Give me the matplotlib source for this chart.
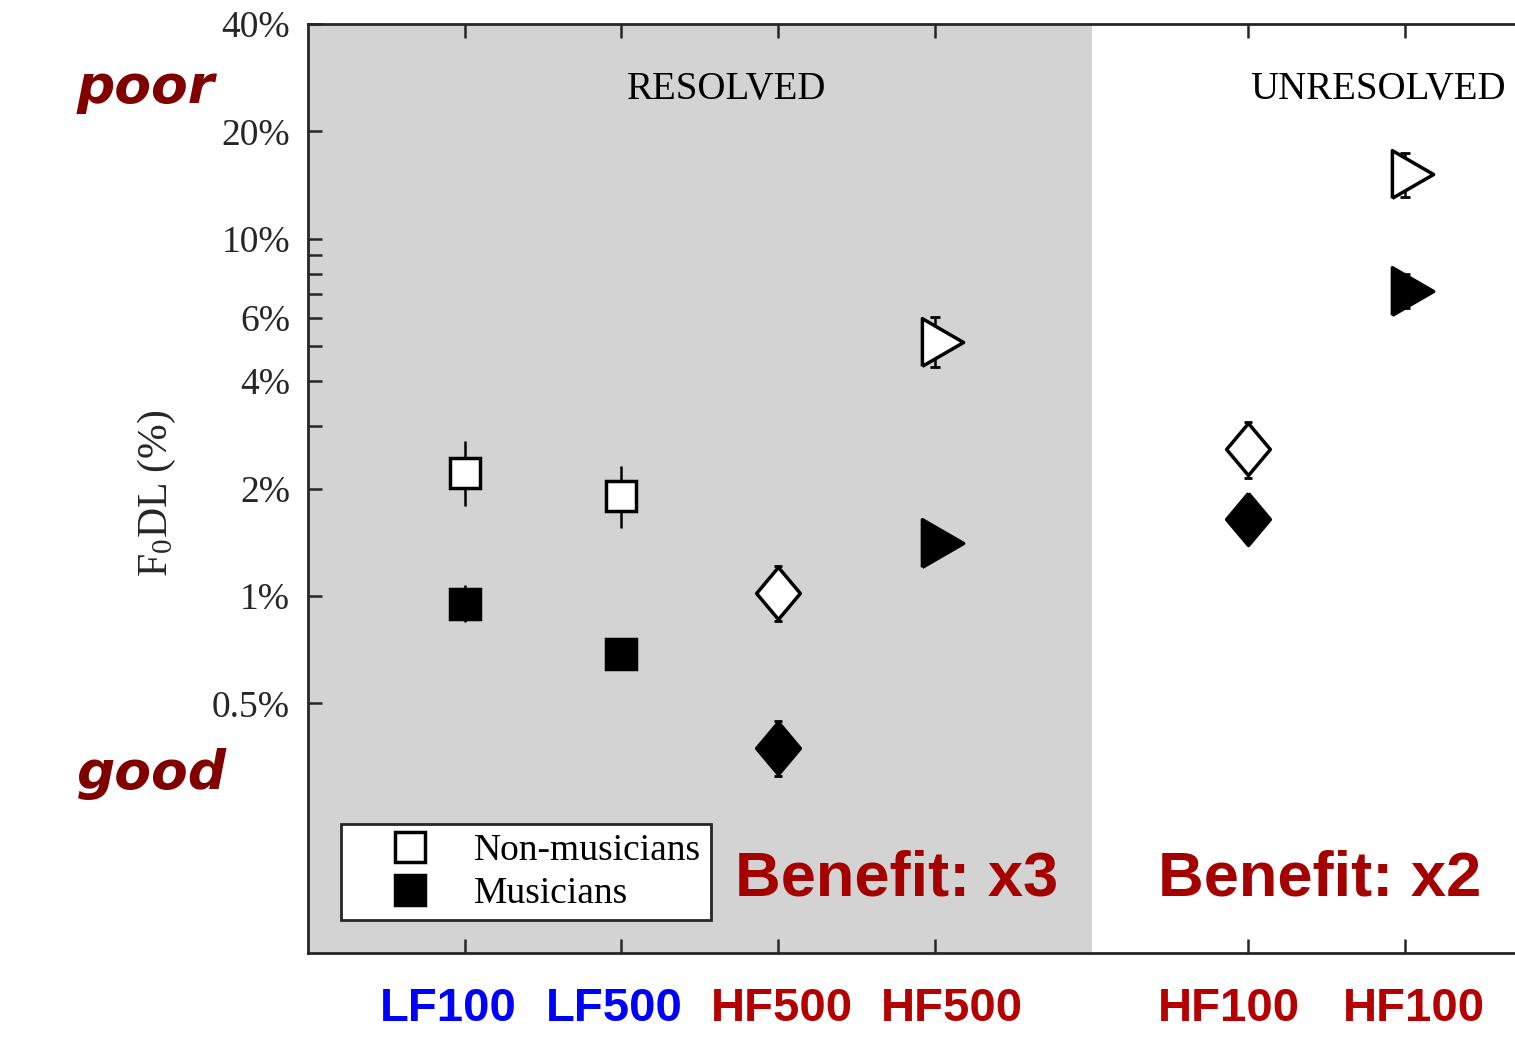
import matplotlib
matplotlib.use("Agg")
import matplotlib.pyplot as plt
import matplotlib.transforms as mtransforms
import numpy as np

plt.rcParams['mathtext.fontset'] = 'custom'
plt.rcParams['mathtext.rm'] = 'Liberation Serif'
plt.rcParams['mathtext.it'] = 'Liberation Serif:italic'

# ---------------- data ----------------
categories = ['LF100', 'LF500', 'HF500', 'HF500', 'HF100', 'HF100']
label_colors = ['#0000FF', '#0000FF', '#B40000', '#B40000', '#B40000', '#B40000']
shapes = ['square', 'square', 'diamond', 'triangle', 'diamond', 'triangle']

nonmus = [2.21, 1.91, 1.02, 5.15, 2.58, 15.2]
nonmus_lo = [1.79, 1.55, 0.85, 4.38, 2.14, 13.1]
nonmus_hi = [2.72, 2.31, 1.21, 6.04, 3.07, 17.4]

mus = [0.95, 0.688, 0.375, 1.41, 1.64, 7.15]
mus_lo = [0.845, 0.66, 0.313, 1.35, 1.57, 6.4]
mus_hi = [1.07, 0.72, 0.447, 1.47, 1.72, 7.98]

yticks = [0.5, 1, 2, 3, 4, 5, 6, 7, 8, 9, 10, 20, 40]
ytick_labels = ['0.5%', '1%', '2%', '', '4%', '', '6%', '', '', '', '10%', '20%', '40%']

# ---------------- layout ----------------
xpos = [1, 2, 3, 4, 6, 7]
label_x = [0.893, 1.953, 3.025, 4.11, 5.877, 7.058]

W, H = 1515, 1046
fig = plt.figure(figsize=(W / 100, H / 100), dpi=100)
ax_left, ax_right_px, ax_top_px, ax_bot_px = 308, 308 + 8 * 156.7, 24, 953
ax = fig.add_axes([ax_left / W, 1 - ax_bot_px / H,
                   (ax_right_px - ax_left) / W, (ax_bot_px - ax_top_px) / H])

ax.set_xlim(0, 8)
ax.set_yscale('log')
ax.set_ylim(0.1, 40)
ax.axvspan(0, 5, color='#d3d3d3', zorder=0, lw=0)

dark = '#262626'
for s in ax.spines.values():
    s.set_linewidth(2.0)
    s.set_color(dark)

ax.set_yticks(yticks)
ax.set_yticklabels(ytick_labels, family='Liberation Serif', fontsize=27, color=dark)
ax.yaxis.set_minor_locator(matplotlib.ticker.NullLocator())
ax.set_xticks(xpos)
ax.set_xticklabels([])
ax.tick_params(axis='both', which='major', direction='in', length=10, width=1.8,
               color=dark, top=True, right=False, pad=13)

ax.set_ylabel(r'F$_0$DL (%)', family='Liberation Serif', fontsize=30, color=dark)
ax.yaxis.set_label_coords(-0.104, 0.495)

# markers
tri = [(-0.275, -0.5), (0.59, 0.0), (-0.275, 0.5), (-0.275, -0.5)]
dia = [(0, 0.5), (0.42, 0), (0, -0.5), (-0.42, 0), (0, 0.5)]
marker_map = {'square': ('s', 22, 0), 'diamond': (dia, 37.5, 3), 'triangle': (tri, 40.5, 3.6)}

for i, shp in enumerate(shapes):
    m, ms, cs = marker_map[shp]
    for vals, lo, hi, face in [(nonmus, nonmus_lo, nonmus_hi, 'white'),
                               (mus, mus_lo, mus_hi, 'black')]:
        v = vals[i]
        ax.errorbar([xpos[i]], [v], yerr=[[v - lo[i]], [hi[i] - v]], fmt='none',
                    ecolor='black', elinewidth=1.8, capsize=cs, capthick=2, zorder=3)
        ax.plot([xpos[i]], [v], linestyle='none', marker=m, markersize=ms,
                markerfacecolor=face, markeredgecolor='black', markeredgewidth=2.5,
                zorder=4)

# legend
h1, = ax.plot([], [], 's', ms=22, mfc='white', mec='black', mew=2.5, label='Non-musicians')
h2, = ax.plot([], [], 's', ms=22, mfc='black', mec='black', mew=2.5, label='Musicians')
leg = ax.legend(handles=[h1, h2], loc='lower left', bbox_to_anchor=(0.0263, 0.0355),
                prop={'family': 'Liberation Serif', 'size': 27}, frameon=True,
                fancybox=False, borderpad=0.25, handlelength=3.2, handletextpad=0.1,
                labelspacing=0.22, borderaxespad=0)
leg.get_frame().set_edgecolor(dark)
leg.get_frame().set_linewidth(2.0)
leg.get_frame().set_facecolor('white')
leg.get_frame().set_alpha(1)
leg.set_zorder(5)

# region titles
fig.text(727 / W, 1 - 99 / H, 'RESOLVED', family='Liberation Serif', fontsize=28,
         ha='center', va='baseline', color='black')
fig.text(1250 / W, 1 - 99 / H, 'UNRESOLVED', family='Liberation Serif', fontsize=28,
         ha='left', va='baseline', color='black')

# benefit texts
fig.text(735 / W, 1 - 896 / H, 'Benefit: x3', family='Liberation Sans', weight='bold',
         fontsize=45.5, color='#A50000', ha='left', va='baseline')
fig.text(1158 / W, 1 - 896 / H, 'Benefit: x2', family='Liberation Sans', weight='bold',
         fontsize=45.5, color='#A50000', ha='left', va='baseline')

# poor / good
fig.text(77 / W, 1 - 103 / H, 'poor', family='DejaVu Sans', weight='bold',
         style='oblique', fontsize=38.5, color='#800000', ha='left', va='baseline')
fig.text(77 / W, 1 - 789 / H, 'good', family='DejaVu Sans', weight='bold',
         style='oblique', fontsize=38.5, color='#800000', ha='left', va='baseline')

# category labels
trans = mtransforms.blended_transform_factory(ax.transData, fig.transFigure)
for lx, lab, col in zip(label_x, categories, label_colors):
    ax.text(lx, 1 - 1021 / H, lab, transform=trans, family='Liberation Sans',
            weight='bold', fontsize=34, color=col, ha='center', va='baseline',
            clip_on=False)

fig.savefig('out.png', dpi=100)
